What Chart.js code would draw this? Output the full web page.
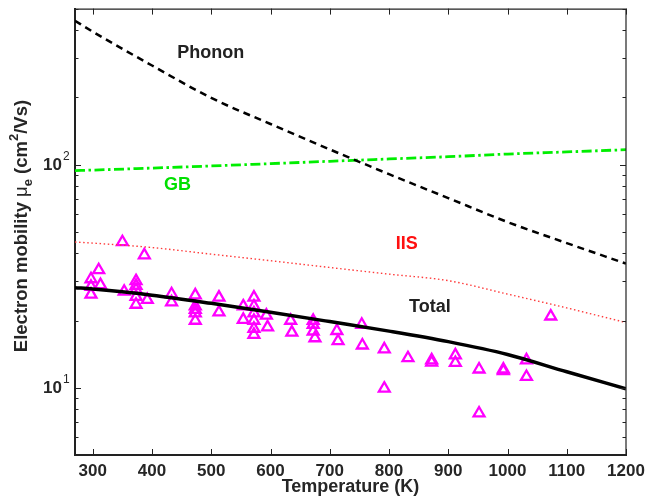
<!DOCTYPE html>
<html>
<head>
<meta charset="utf-8">
<title>Electron mobility vs temperature</title>
<script src="https://cdn.jsdelivr.net/npm/chart.js@4/dist/chart.umd.min.js"></script>
<style>
  html, body { margin: 0; padding: 0; background: #ffffff; }
  #wrap { width: 647px; height: 500px; }
</style>
</head>
<body>
<div id="wrap"><canvas id="c" width="647" height="500"></canvas></div>
<script>
// Temperatures (K) at which the model curves are tabulated
const curveT = [270, 300, 400, 500, 600, 700, 800, 900, 1000, 1100, 1200];
// Model mobility contributions (cm^2/Vs)
const phonon = [441, 394, 278, 199, 152, 117, 90.6, 70.8, 55.3, 44.5, 36];
const gb     = [94, 94.5, 96.5, 98.6, 101, 103.5, 106, 108.5, 111.5, 114, 116.6];
const iis    = [45, 44.5, 42.5, 39.7, 37.1, 34.6, 32.3, 30.2, 26.3, 22.8, 19.6];
const total  = [28.1, 27.7, 26.0, 23.9, 21.8, 19.8, 17.95, 16.1, 14.1, 11.8, 9.9];

// Measured samples: temperature (K) and mobility (cm^2/Vs)
const measT = [350, 387, 310, 297, 297, 313, 297, 353,
  373, 373, 373, 373, 373, 392, 433, 433,
  473, 473, 473, 473, 473, 513, 513, 554, 554,
  572, 572, 572, 572, 572, 572, 593, 595,
  634, 636, 672, 672, 672, 675, 712, 714, 754, 755,
  792, 792, 832, 872, 872, 912, 912, 952, 952, 993, 993,
  1032, 1032, 1073];
const measMu = [45, 39.3, 33.7, 30.7, 28.4, 28.9, 26.2, 27.0,
  30.1, 28.7, 27.5, 25.6, 23.6, 24.8, 26.3, 24.2,
  26.0, 23.2, 22.4, 21.6, 20.0, 25.4, 21.8, 23.2, 20.2,
  25.4, 23.2, 21.6, 20.0, 18.4, 17.3, 21.1, 18.7,
  20.0, 17.7, 20.0, 19.2, 17.9, 16.7, 18.0, 16.2, 19.2, 15.5,
  14.9, 9.93, 13.6, 13.3, 13.0, 14.0, 12.95, 12.1, 7.69, 12.1, 11.9,
  13.3, 11.2, 20.9];

// Axis ticks
const xTicks = [300, 400, 500, 600, 700, 800, 900, 1000, 1100, 1200];
const yMajor = [10, 100];
const yMinor = [5, 6, 7, 8, 9, 20, 30, 40, 50, 60, 70, 80, 90, 200, 300, 400, 500];

// Curve captions: text, anchor temperature, anchor mobility, colour
const captionText = ['Phonon', 'GB', 'IIS', 'Total'];
const captionT    = [499, 443, 830, 869];
const captionMu   = [315, 80.7, 44, 23.1];
const captionCol  = ['#222222', '#00e000', '#ff1010', '#222222'];

const FONT = "'Liberation Sans', Arial, Helvetica, sans-serif";
const pts = (xs, ys) => xs.map((v, i) => ({ x: v, y: ys[i] }));

const decorations = {
  id: 'decorations',
  afterDraw(chart) {
    const { ctx, chartArea: a, scales: { x, y } } = chart;
    ctx.save();
    ctx.strokeStyle = '#222222';
    ctx.fillStyle = '#222222';

    // top and right frame
    ctx.lineWidth = 1.2;
    ctx.beginPath();
    ctx.moveTo(a.left, a.top + 0.5);
    ctx.lineTo(a.right, a.top + 0.5);
    ctx.moveTo(a.right, a.top);
    ctx.lineTo(a.right, a.bottom);
    ctx.stroke();

    // inward tick marks on all four sides
    ctx.lineWidth = 1;
    ctx.beginPath();
    xTicks.forEach(t => {
      const px = Math.round(x.getPixelForValue(t)) + 0.5;
      ctx.moveTo(px, a.bottom); ctx.lineTo(px, a.bottom - 6);
      ctx.moveTo(px, a.top); ctx.lineTo(px, a.top + 6);
    });
    yMajor.forEach(v => {
      const py = Math.round(y.getPixelForValue(v)) + 0.5;
      ctx.moveTo(a.left, py); ctx.lineTo(a.left + 6, py);
      ctx.moveTo(a.right, py); ctx.lineTo(a.right - 6, py);
    });
    yMinor.forEach(v => {
      const py = Math.round(y.getPixelForValue(v)) + 0.5;
      ctx.moveTo(a.left, py); ctx.lineTo(a.left + 3.5, py);
      ctx.moveTo(a.right, py); ctx.lineTo(a.right - 3.5, py);
    });
    ctx.stroke();

    // y tick labels: 10 with exponent
    ctx.fillStyle = '#262626';
    yMajor.forEach(v => {
      const py = y.getPixelForValue(v);
      ctx.font = 'bold 17px ' + FONT;
      ctx.textAlign = 'right';
      ctx.textBaseline = 'middle';
      ctx.fillText('10', 62, py + 1);
      ctx.font = '12px ' + FONT;
      ctx.textAlign = 'left';
      ctx.fillText(String(Math.round(Math.log10(v))), 63, py - 8);
    });

    // rotated y axis title with subscript and superscript
    const parts = [
      { t: 'Electron mobility ', f: 'bold 18.5px ' + FONT, dy: 0 },
      { t: 'μ', f: '18.5px ' + FONT, dy: 0 },
      { t: 'e', f: 'bold 13px ' + FONT, dy: 5 },
      { t: ' (cm', f: 'bold 18.5px ' + FONT, dy: 0 },
      { t: '2', f: 'bold 13px ' + FONT, dy: -9 },
      { t: '/Vs)', f: 'bold 18.5px ' + FONT, dy: 0 }
    ];
    let w = 0;
    parts.forEach(p => { ctx.font = p.f; p.w = ctx.measureText(p.t).width; w += p.w; });
    ctx.save();
    ctx.translate(27, 226);
    ctx.rotate(-Math.PI / 2);
    ctx.textAlign = 'left';
    ctx.textBaseline = 'alphabetic';
    let cx = -w / 2;
    parts.forEach(p => { ctx.font = p.f; ctx.fillText(p.t, cx, p.dy); cx += p.w; });
    ctx.restore();

    // curve captions
    ctx.font = 'bold 18px ' + FONT;
    ctx.textAlign = 'center';
    ctx.textBaseline = 'middle';
    captionText.forEach((t, i) => {
      ctx.fillStyle = captionCol[i];
      ctx.fillText(t, x.getPixelForValue(captionT[i]), y.getPixelForValue(captionMu[i]));
    });
    ctx.restore();
  }
};

const curve = (label, ys, style) => Object.assign({
  label, data: pts(curveT, ys), showLine: true, pointRadius: 0, fill: false,
  cubicInterpolationMode: 'monotone', order: 1
}, style);

new Chart(document.getElementById('c'), {
  type: 'scatter',
  data: {
    datasets: [
      curve('Phonon', phonon, { borderColor: '#000000', borderWidth: 2.5, borderDash: [7, 5] }),
      curve('GB', gb, { borderColor: '#00ee00', borderWidth: 2.8, borderDash: [10, 3.5, 2.5, 3.5] }),
      curve('IIS', iis, { borderColor: '#ff3b3b', borderWidth: 1.4, borderDash: [1.5, 2.6] }),
      curve('Total', total, { borderColor: '#000000', borderWidth: 3.5 }),
      {
        label: 'Measured', data: pts(measT, measMu), showLine: false,
        pointStyle: 'triangle', pointRadius: 6.3, borderWidth: 2.3,
        borderColor: '#ff00ff', backgroundColor: 'rgba(0,0,0,0)', order: 5
      }
    ]
  },
  options: {
    responsive: false,
    devicePixelRatio: 1,
    animation: false,
    layout: { padding: { left: 75, right: 21, top: 5, bottom: 0 } },
    plugins: { legend: { display: false }, tooltip: { enabled: false } },
    scales: {
      x: {
        type: 'linear', position: 'bottom', min: 270, max: 1200,
        afterBuildTicks: s => { s.ticks = xTicks.map(v => ({ value: v })); },
        afterFit: s => { s.height = 45; s.paddingLeft = 0; s.paddingRight = 0; },
        grid: { display: false, drawTicks: false },
        border: { display: true, color: '#222222', width: 2 },
        ticks: {
          color: '#262626', padding: 6, maxRotation: 0, autoSkip: false,
          callback: v => String(v),
          font: { family: FONT, size: 17, weight: 'bold' }
        },
        title: {
          display: true, text: 'Temperature (K)', color: '#262626',
          padding: { top: 0, bottom: 2 },
          font: { family: FONT, size: 18, weight: 'bold' }
        }
      },
      y: {
        type: 'logarithmic', position: 'left', min: 5, max: 500,
        afterBuildTicks: s => { s.ticks = yMajor.map(v => ({ value: v })); },
        afterFit: s => { s.width = 0; s.paddingTop = 0; s.paddingBottom = 0; },
        grid: { display: false, drawTicks: false },
        border: { display: true, color: '#222222', width: 2 },
        ticks: { display: false },
        title: { display: false }
      }
    }
  },
  plugins: [decorations]
});
</script>
</body>
</html>
